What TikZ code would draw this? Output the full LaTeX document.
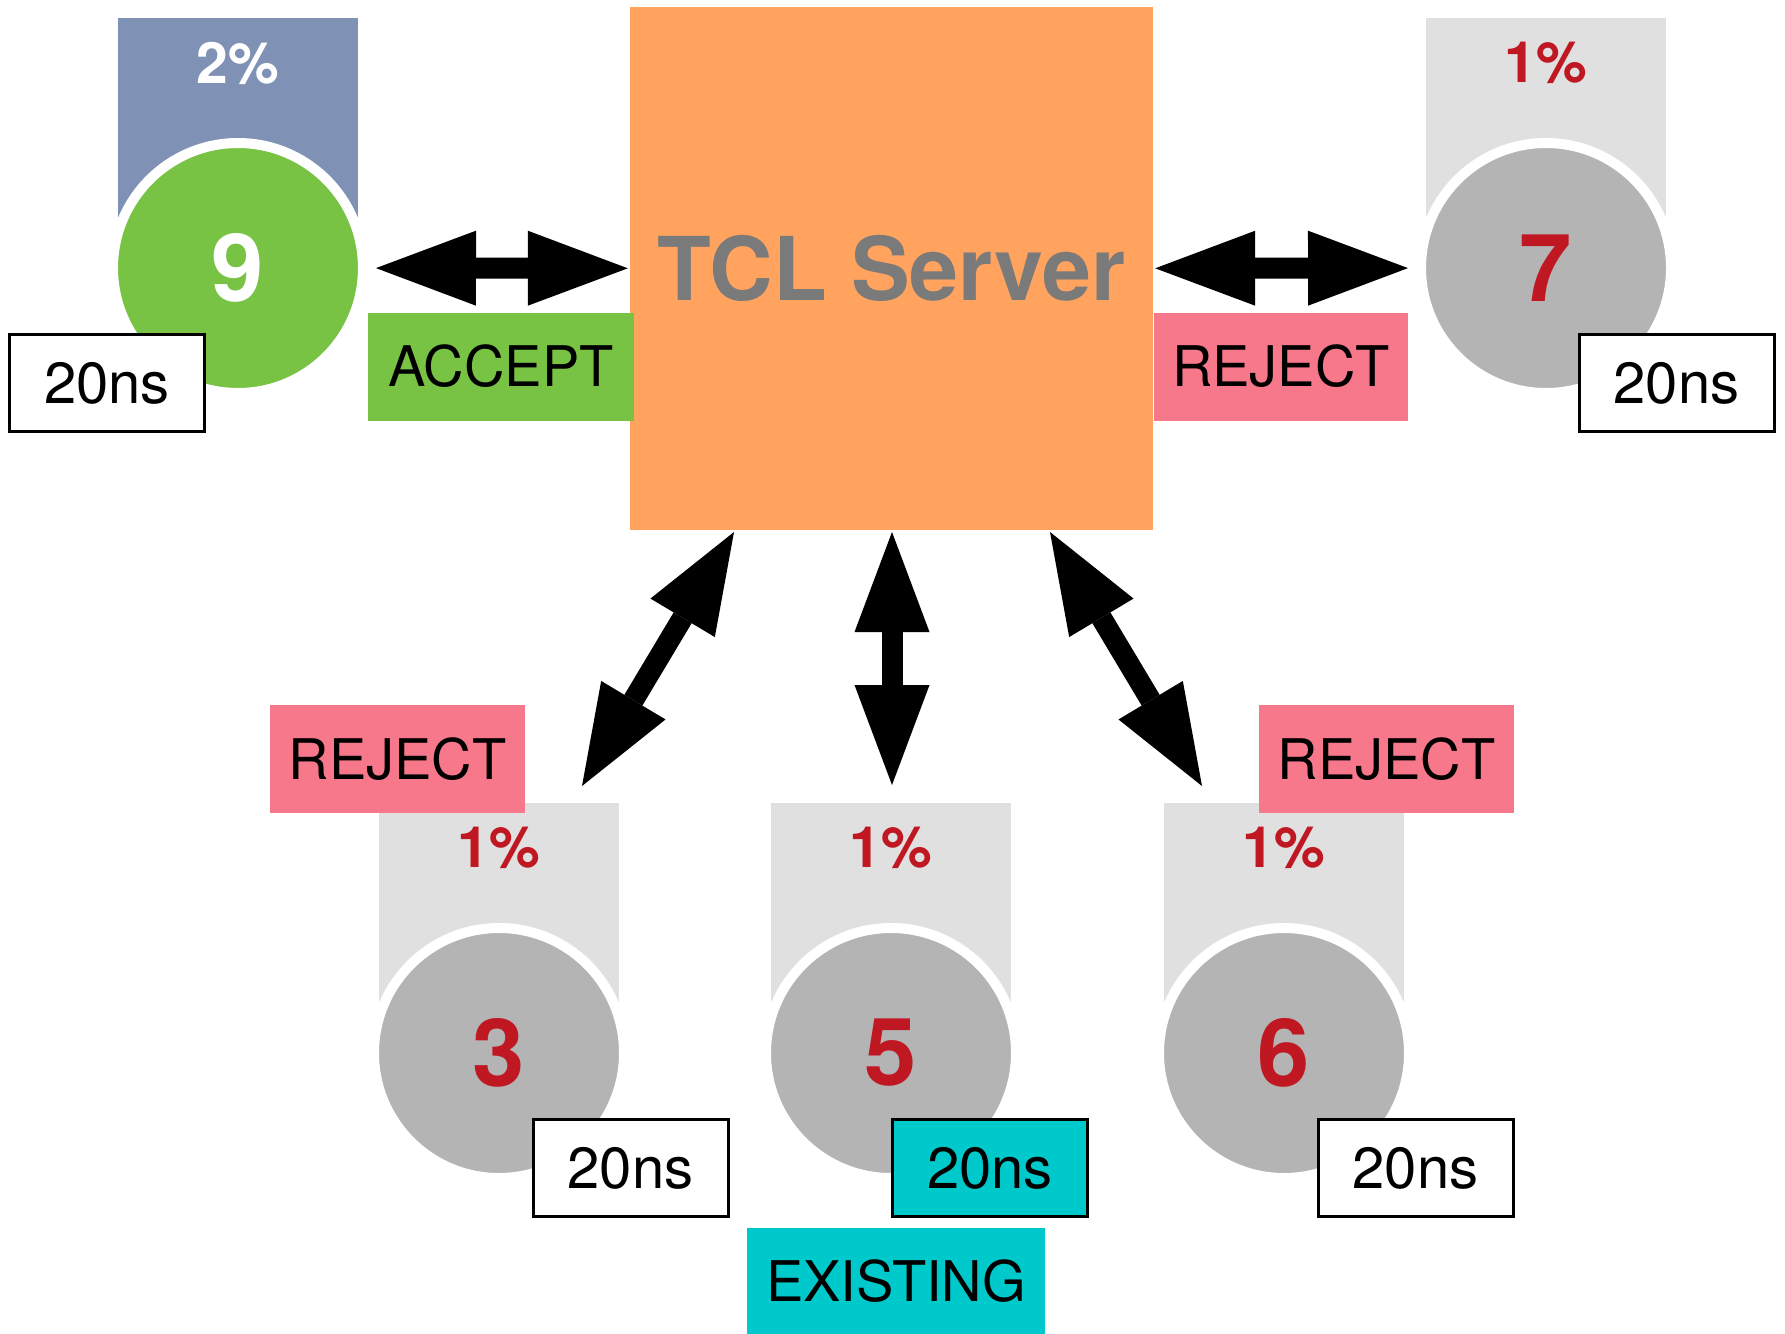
\documentclass[tikz,border=0pt]{standalone}
\usepackage{fontspec}
\setmainfont{TeX Gyre Heros}
\usetikzlibrary{arrows.meta}
\definecolor{cblue}{RGB}{127,146,181}
\definecolor{cgreen}{RGB}{120,195,68}
\definecolor{corange}{RGB}{255,163,94}
\definecolor{clgray}{RGB}{224,224,224}
\definecolor{cgray}{RGB}{180,180,180}
\definecolor{cred}{RGB}{192,24,34}
\definecolor{cpink}{RGB}{246,120,138}
\definecolor{ccyan}{RGB}{0,201,203}
\definecolor{ctext}{RGB}{122,122,122}
\begin{document}
\begin{tikzpicture}[x=1pt,y=-1pt,
  tab/.style={fill=#1, draw=none, minimum width=240pt, minimum height=250pt, inner sep=0pt, anchor=north},
  disc/.style={circle, fill=#1, draw=white, line width=10pt, minimum size=250pt, inner sep=0pt},
  pct/.style={text=#1, font=\bfseries\fontsize{57}{60}\selectfont, inner sep=0pt},
  num/.style={text=#1, font=\bfseries\fontsize{94}{98}\selectfont, inner sep=0pt},
  timebox/.style={fill=#1, draw=black, line width=3pt, minimum width=195pt, minimum height=97pt, inner sep=0pt, font=\fontsize{58}{62}\selectfont},
  tag/.style={fill=#1, draw=none, minimum height=108pt, inner sep=0pt, font=\fontsize{56}{60}\selectfont},
  tip/.tip={Triangle[length=100pt,width=75pt,line width=0pt]},
  bigarrow/.style={draw=black, line width=21pt, tip-tip}
]
\useasboundingbox (0,0) rectangle (1785,1333);

% server
\node[fill=corange, minimum width=523pt, minimum height=523pt, inner sep=0pt, text=ctext,
      font=\bfseries\fontsize{88}{92}\selectfont] (server) at (891.5,268.5) {TCL Server};

% top left node 9
\node[tab=cblue] (t9) at (238,18) {};
\node[disc=cgreen] (c9) at (238,268) {};
\node[pct=white] (p9) at (238,63) {2\%};
\node[num=white] (n9) at (c9.center) {9};
\node[timebox=white] (b9) at (107,383) {20ns};

% top right node 7
\node[tab=clgray] (t7) at (1546,18) {};
\node[disc=cgray] (c7) at (1546,268) {};
\node[pct=cred] (p7) at (1546,63) {1\%};
\node[num=cred] (n7) at (c7.center) {7};
\node[timebox=white] (b7) at (1676.5,383) {20ns};

% bottom nodes
\node[tab=clgray] (t3) at (499,803) {};
\node[disc=cgray] (c3) at (499,1053) {};
\node[pct=cred] (p3) at (499,848) {1\%};
\node[num=cred] (n3) at (c3.center) {3};
\node[timebox=white] (b3) at (630.5,1168) {20ns};

\node[tab=clgray] (t5) at (891,803) {};
\node[disc=cgray] (c5) at (891,1053) {};
\node[pct=cred] (p5) at (891,848) {1\%};
\node[num=cred] (n5) at (c5.center) {5};
\node[timebox=ccyan] (b5) at (990,1168) {20ns};

\node[tab=clgray] (t6) at (1284,803) {};
\node[disc=cgray] (c6) at (1284,1053) {};
\node[pct=cred] (p6) at (1284,848) {1\%};
\node[num=cred] (n6) at (c6.center) {6};
\node[timebox=white] (b6) at (1415.5,1168) {20ns};

% tags
\node[tag=cgreen, minimum width=266pt] (acc) at (501,366.5) {ACCEPT};
\node[tag=cpink, minimum width=254pt] (rej7) at (1281,366.5) {REJECT};
\node[tag=cpink, minimum width=255pt] (rej3) at (397.5,759) {REJECT};
\node[tag=cpink, minimum width=255pt] (rej6) at (1386.5,759) {REJECT};
\node[tag=ccyan, minimum width=298pt, minimum height=107pt] (exist) at (896,1281.5) {EXISTING};

% connectors
\draw[bigarrow, shorten <=8pt, shorten >=2pt] (c9) -- (server);
\draw[bigarrow, shorten <=2pt, shorten >=8pt] (server) -- (c7);
\coordinate (s3) at (734,532);  \coordinate (e3) at (582,786);
\coordinate (s5) at (892,532);  \coordinate (e5) at (892,785);
\coordinate (s6) at (1050,532); \coordinate (e6) at (1202,786);
\draw[bigarrow] (s3) -- (e3);
\draw[bigarrow] (s5) -- (e5);
\draw[bigarrow] (s6) -- (e6);
\end{tikzpicture}
\end{document}
